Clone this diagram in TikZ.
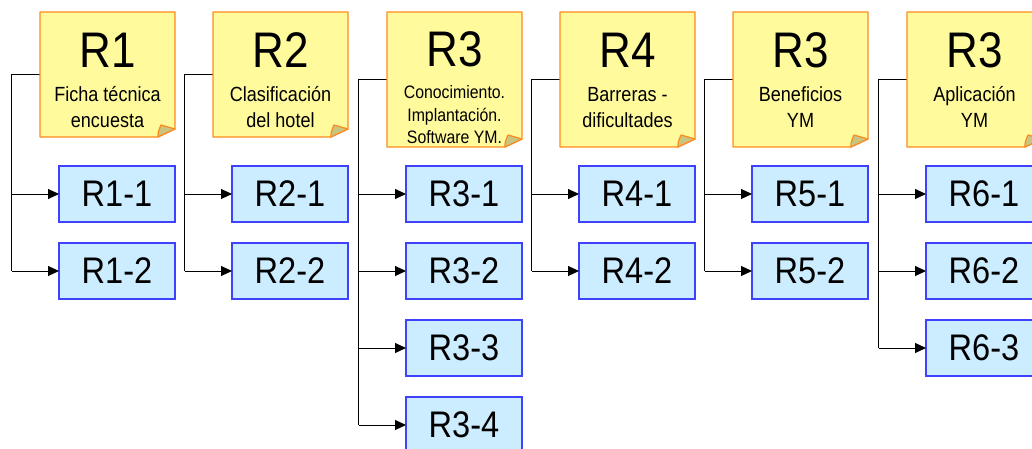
\documentclass[tikz,border=0pt]{standalone}
\usepackage{fontspec}
\setmainfont{Liberation Sans}[FakeStretch=0.88]
\usetikzlibrary{arrows.meta}

\definecolor{notefill}{HTML}{FFFA9C}
\definecolor{noteedge}{HTML}{FF8A1E}
\definecolor{foldfill}{HTML}{C9C57E}
\definecolor{leaffill}{HTML}{CCECFF}
\definecolor{leafedge}{HTML}{4040FF}

% sticky note: draws the card with a folded bottom-right corner around node #1
\newcommand\stickycard[1]{%
  \draw[noteedge, line width=1.2pt, fill=notefill, line join=round]
    (#1.north west) -- (#1.north east) -- ([yshift=8pt]#1.south east)
    -- ([xshift=-17pt]#1.south east) -- (#1.south west) -- cycle;
  \draw[noteedge, line width=1.2pt, fill=foldfill, line join=round]
    ([xshift=-17pt]#1.south east)
    .. controls ([xshift=-17pt,yshift=5pt]#1.south east) .. ([xshift=-14pt,yshift=12pt]#1.south east)
    -- ([yshift=8pt]#1.south east) -- cycle;
}

\begin{document}
\begin{tikzpicture}[x=1pt, y=-1pt,
  card/.style={minimum width=135pt, inner sep=0pt, outer sep=0pt, anchor=north west},
  shortcard/.style={card, minimum height=125pt},
  tallcard/.style={card, minimum height=135pt},
  big/.style={font=\fontsize{50}{50}\selectfont, anchor=base, inner sep=0pt},
  sub/.style={font=\fontsize{20.5}{24}\selectfont, anchor=base, inner sep=0pt},
  subsmall/.style={font=\fontsize{18}{22}\selectfont, anchor=base, inner sep=0pt},
  leaf/.style={draw=leafedge, fill=leaffill, line width=1.5pt, minimum width=116pt,
    minimum height=56pt, inner sep=0pt, outer sep=0pt, anchor=north west,
    font=\fontsize{37}{37}\selectfont},
  wire/.style={line width=1pt, black},
  arr/.style={wire, -{Triangle[length=11pt,width=10pt]}}]
\useasboundingbox (0,0) rectangle (1032,449);

% header cards (placement only; drawn after the connectors)
\node[shortcard] (n1) at (40,12) {};
\node[shortcard] (n2) at (213,12) {};
\node[tallcard]  (n3) at (387,12) {};
\node[tallcard]  (n4) at (560,12) {};
\node[tallcard]  (n5) at (733,12) {};
\node[tallcard]  (n6) at (907,12) {};

% result boxes
\node[leaf] (b11) at (59,166) {R1-1};
\node[leaf] (b12) at (59,243) {R1-2};
\node[leaf] (b21) at (232,166) {R2-1};
\node[leaf] (b22) at (232,243) {R2-2};
\node[leaf] (b31) at (406,166) {R3-1};
\node[leaf] (b32) at (406,243) {R3-2};
\node[leaf] (b33) at (406,320) {R3-3};
\node[leaf] (b34) at (406,397) {R3-4};
\node[leaf] (b41) at (579,166) {R4-1};
\node[leaf] (b42) at (579,243) {R4-2};
\node[leaf] (b51) at (752,166) {R5-1};
\node[leaf] (b52) at (752,243) {R5-2};
\node[leaf] (b61) at (926,166) {R6-1};
\node[leaf] (b62) at (926,243) {R6-2};
\node[leaf] (b63) at (926,320) {R6-3};

% trunk corners
\foreach \n in {1,...,6} {
  \coordinate (t\n) at ([xshift=-28.5pt]n\n.west);
}

% connectors
\draw[wire] (n1.west) -- (t1) -- (t1 |- b12.west);
\draw[arr] (t1 |- b11.west) -- (b11.west);
\draw[arr] (t1 |- b12.west) -- (b12.west);

\draw[wire] (n2.west) -- (t2) -- (t2 |- b22.west);
\draw[arr] (t2 |- b21.west) -- (b21.west);
\draw[arr] (t2 |- b22.west) -- (b22.west);

\draw[wire] (n3.west) -- (t3) -- (t3 |- b34.west);
\draw[arr] (t3 |- b31.west) -- (b31.west);
\draw[arr] (t3 |- b32.west) -- (b32.west);
\draw[arr] (t3 |- b33.west) -- (b33.west);
\draw[arr] (t3 |- b34.west) -- (b34.west);

\draw[wire] (n4.west) -- (t4) -- (t4 |- b42.west);
\draw[arr] (t4 |- b41.west) -- (b41.west);
\draw[arr] (t4 |- b42.west) -- (b42.west);

\draw[wire] (n5.west) -- (t5) -- (t5 |- b52.west);
\draw[arr] (t5 |- b51.west) -- (b51.west);
\draw[arr] (t5 |- b52.west) -- (b52.west);

\draw[wire] (n6.west) -- (t6) -- (t6 |- b63.west);
\draw[arr] (t6 |- b61.west) -- (b61.west);
\draw[arr] (t6 |- b62.west) -- (b62.west);
\draw[arr] (t6 |- b63.west) -- (b63.west);

% cards
\foreach \n in {1,...,6} { \stickycard{n\n} }

% card texts
\node[big] (n1a) at ([yshift=-56pt]n1.north) {R1};
\node[sub] (n1b) at ([yshift=-90pt]n1.north) {Ficha técnica};
\node[sub] (n1c) at ([yshift=-116pt]n1.north) {encuesta};

\node[big] (n2a) at ([yshift=-56pt]n2.north) {R2};
\node[sub] (n2b) at ([yshift=-90pt]n2.north) {Clasificación};
\node[sub] (n2c) at ([yshift=-116pt]n2.north) {del hotel};

\node[big] (n3a) at ([yshift=-55pt]n3.north) {R3};
\node[subsmall] (n3b) at ([yshift=-87pt]n3.north) {Conocimiento.};
\node[subsmall] (n3c) at ([yshift=-110pt]n3.north) {Implantación.};
\node[subsmall] (n3d) at ([yshift=-132pt]n3.north) {Software YM.};

\node[big] (n4a) at ([yshift=-56pt]n4.north) {R4};
\node[sub] (n4b) at ([yshift=-90pt]n4.north) {Barreras -};
\node[sub] (n4c) at ([yshift=-116pt]n4.north) {dificultades};

\node[big] (n5a) at ([yshift=-56pt]n5.north) {R3};
\node[sub] (n5b) at ([yshift=-90pt]n5.north) {Beneficios};
\node[sub] (n5c) at ([yshift=-116pt]n5.north) {YM};

\node[big] (n6a) at ([yshift=-56pt]n6.north) {R3};
\node[sub] (n6b) at ([yshift=-90pt]n6.north) {Aplicación};
\node[sub] (n6c) at ([yshift=-116pt]n6.north) {YM};
\end{tikzpicture}
\end{document}
